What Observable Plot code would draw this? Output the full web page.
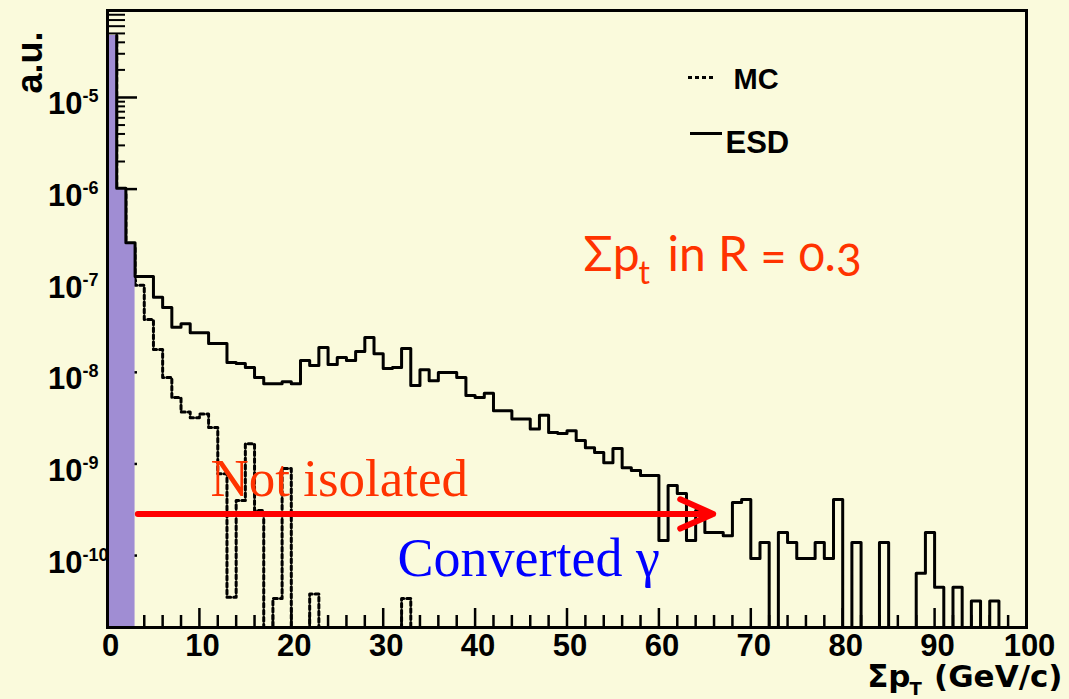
<!DOCTYPE html>
<html><head><meta charset="utf-8">
<script src="https://cdn.jsdelivr.net/npm/d3@7"></script>
<script src="https://cdn.jsdelivr.net/npm/@observablehq/plot@0.6"></script>
<style>
html,body{margin:0;padding:0;background:#fafadc;}
#chart{width:1069px;height:699px;overflow:hidden;}
</style></head><body><div id="chart"></div>
<script>
// Histogram bins: 1 GeV wide, lower edges 0..99 (Σp_T, GeV/c)
const binWidth = 1;
const binLow = d3.range(0, 100, binWidth);

// ESD histogram (a.u.), one value per bin; 0 = empty bin
const esdValues = [
  4.75e-5, 1.02e-6, 2.6e-7, 1.11e-7, 1.11e-7, 6.6e-8, 5.1e-8, 3.1e-8, 3.4e-8, 2.7e-8,
  2.7e-8, 2.06e-8, 2.06e-8, 1.28e-8, 1.25e-8, 1.13e-8, 8.8e-9, 7.5e-9, 7.5e-9, 7.9e-9,
  7.5e-9, 1.35e-8, 1.19e-8, 1.87e-8, 1.22e-8, 1.45e-8, 1.35e-8, 1.69e-8, 2.4e-8, 1.6e-8,
  1.1e-8, 1.13e-8, 1.82e-8, 7.2e-9, 1.07e-8, 8.1e-9, 9.95e-9, 9.95e-9, 8.8e-9, 5.6e-9,
  5.3e-9, 5.9e-9, 3.8e-9, 3.8e-9, 3.1e-9, 3.1e-9, 2.4e-9, 3.4e-9, 2.2e-9, 2.15e-9,
  2.3e-9, 1.8e-9, 1.5e-9, 1.33e-9, 1.03e-9, 1.47e-9, 9.1e-10, 8.5e-10, 7.5e-10, 7.5e-10,
  1.46e-10, 5.8e-10, 4.75e-10, 1.46e-10, 3.1e-10, 1.78e-10, 1.78e-10, 1.65e-10, 3.8e-10, 4.1e-10,
  9.3e-11, 1.39e-10, 0, 1.78e-10, 1.39e-10, 9.3e-11, 9.3e-11, 1.39e-10, 9.3e-11, 4.1e-10,
  0, 1.39e-10, 0, 0, 1.39e-10, 0, 0, 0, 6.4e-11, 1.78e-10,
  4.5e-11, 0, 4.5e-11, 0, 3.2e-11, 0, 3.2e-11, 0, 0, 0
];

// MC histogram (a.u.)
const mcValues = [
  4.75e-5, 9.0e-7, 2.4e-7, 8.9e-8, 3.77e-8, 1.77e-8, 8.8e-9, 5.3e-9, 3.7e-9, 3.2e-9,
  3.5e-9, 2.5e-9, 7.8e-10, 3.5e-11, 4.0e-10, 1.66e-9, 3.1e-10, 0, 3.4e-11, 8.9e-10,
  0, 0, 3.8e-11, 0, 0, 0, 0, 0, 0, 0,
  0, 0, 3.4e-11, 0, 0, 0, 0, 0, 0, 0,
  0, 0, 0, 0, 0, 0, 0, 0, 0, 0,
  0, 0, 0, 0, 0, 0, 0, 0, 0, 0,
  0, 0, 0, 0, 0, 0, 0, 0, 0, 0,
  0, 0, 0, 0, 0, 0, 0, 0, 0, 0,
  0, 0, 0, 0, 0, 0, 0, 0, 0, 0,
  0, 0, 0, 0, 0, 0, 0, 0, 0, 0
];

// Bins filled in purple (isolated region)
const isolatedBins = [0, 1, 2];

// Axis tick labels
const xTickLabels = [0, 10, 20, 30, 40, 50, 60, 70, 80, 90, 100];
const yTickExponents = [-5, -6, -7, -8, -9, -10];

// Legend entries
const legendLabels = ["MC", "ESD"];

// Annotation arrow (data units): from end of isolated region to right
const arrowSpec = [{x1: 3.3, x2: 65.9, y: 2.85e-10}];

// ---- layout ----
const W = 1069, H = 699;
const mL = 107, mR = 43, mT = 10, mB = 72;
const frameW = W - mL - mR, frameH = H - mT - mB;
const yDomain = [1.64e-11, 8.9e-5];
const yMin = yDomain[0];

function steps(vals, bins) {
  const pts = [];
  for (const i of bins) {
    const v = vals[i] > 0 ? vals[i] : yMin;
    pts.push({x: binLow[i], y: v}, {x: binLow[i] + binWidth, y: v});
  }
  return pts;
}
const allBins = binLow.map((_, i) => i);
const esdSteps = steps(esdValues, allBins).slice(1);
const mcSteps = steps(mcValues, allBins).slice(1);
const purpleSteps = steps(esdValues, isolatedBins);

const yMajor = yTickExponents.map(e => Math.pow(10, e));
const yMinor = [];
for (let k = -11; k <= -5; k++) for (let m = 2; m <= 9; m++) {
  const v = m * Math.pow(10, k);
  if (v > yDomain[0] && v < yDomain[1]) yMinor.push(v);
}
const xMinor = d3.range(2, 100, 2).filter(v => v % 10 !== 0);
const xMajor = d3.range(10, 100, 10);

const sans = "Liberation Sans, Arial, Helvetica, sans-serif";
const serif = "Liberation Serif, Times New Roman, serif";

const chart = Plot.plot({
  width: W, height: H,
  marginLeft: mL, marginRight: mR, marginTop: mT, marginBottom: mB,
  x: {domain: [0, 100], axis: null},
  y: {type: "log", domain: yDomain, axis: null},
  style: {background: "#fafadc", fontFamily: sans, overflow: "visible"},
  marks: [
    // ticks
    Plot.tickY(yMinor, {y: d => d, insetRight: frameW - 18, stroke: "black", strokeWidth: 2}),
    Plot.tickY(yMajor, {y: d => d, insetRight: frameW - 30, stroke: "black", strokeWidth: 2.5}),
    Plot.tickX(xMinor, {x: d => d, insetTop: frameH - 12, stroke: "black", strokeWidth: 2.5}),
    Plot.tickX(xMajor, {x: d => d, insetTop: frameH - 19, stroke: "black", strokeWidth: 2.5}),
    // MC (dotted)
    Plot.line(mcSteps, {x: "x", y: "y", stroke: "black", strokeWidth: 3, strokeDasharray: "4,3"}),
    // isolated region fill
    Plot.areaY(purpleSteps, {x: "x", y1: yMin, y2: "y", fill: "#a08dd3"}),
    // ESD (solid)
    Plot.line(esdSteps, {x: "x", y: "y", stroke: "black", strokeWidth: 3}),
    Plot.frame({stroke: "black", strokeWidth: 3}),
    // x tick labels
    Plot.text(xTickLabels, {x: d => d, y: yMin, text: d => String(d), dx: 3, dy: 28,
      textAnchor: "middle", lineAnchor: "bottom", fontSize: 31, fontWeight: "bold", fill: "black"}),
    // y tick labels 10^exp
    Plot.text(yMajor, {x: 0, y: d => d, text: () => "10", dx: -25, dy: 17,
      textAnchor: "end", lineAnchor: "bottom", fontSize: 31, fontWeight: "bold", fill: "black"}),
    Plot.text(yTickExponents, {x: 0, y: e => Math.pow(10, e), text: e => String(e), dx: -25, dy: 5,
      textAnchor: "start", lineAnchor: "bottom", fontSize: 18, fontWeight: "bold", fill: "black"}),
    // axis titles
    Plot.text(["a.u."], {frameAnchor: "top-left", dx: -66, dy: 52, rotate: -90,
      textAnchor: "middle", lineAnchor: "bottom", fontSize: 36, fontWeight: "bold", fill: "black"}),
    Plot.text(["Σp"], {frameAnchor: "top-left", dx: 803, dy: 676, textAnchor: "end",
      lineAnchor: "bottom", fontSize: 31, fontWeight: "bold", fontFamily: "DejaVu Sans", fill: "black"}),
    Plot.text(["T"], {frameAnchor: "top-left", dx: 802, dy: 684, textAnchor: "start",
      lineAnchor: "bottom", fontSize: 18, fontWeight: "bold", fontFamily: "DejaVu Sans", fill: "black"}),
    Plot.text(["(GeV/c)"], {frameAnchor: "top-left", dx: 955, dy: 676, textAnchor: "end",
      lineAnchor: "bottom", fontSize: 31, fontWeight: "bold", fontFamily: "DejaVu Sans", fill: "black"}),
    // legend
    Plot.ruleY([0], {y: () => yDomain[1], dy: 67, insetLeft: 581, insetRight: frameW - 608,
      stroke: "black", strokeWidth: 3, strokeDasharray: "4,3"}),
    Plot.ruleY([0], {y: () => yDomain[1], dy: 123, insetLeft: 583, insetRight: frameW - 615,
      stroke: "black", strokeWidth: 3}),
    Plot.text([legendLabels[0]], {frameAnchor: "top-left", dx: 626, dy: 78, textAnchor: "start",
      lineAnchor: "bottom", fontSize: 29, fontWeight: "bold", fill: "black"}),
    Plot.text([legendLabels[1]], {frameAnchor: "top-left", dx: 618, dy: 142, textAnchor: "start",
      lineAnchor: "bottom", fontSize: 31, fontWeight: "bold", fill: "black"}),
    // annotations
    Plot.text(["Σp"], {frameAnchor: "top-left", dx: 476, dy: 260, textAnchor: "start",
      lineAnchor: "bottom", fontSize: 48, fontFamily: "Lato, Open Sans, sans-serif", fill: "#ff3300"}),
    Plot.text(["t"], {frameAnchor: "top-left", dx: 531, dy: 273, textAnchor: "start",
      lineAnchor: "bottom", fontSize: 32, fontFamily: "Lato, Open Sans, sans-serif", fill: "#ff3300"}),
    Plot.text(["in R = 0.3"], {frameAnchor: "top-left", dx: 560, dy: 260, textAnchor: "start",
      lineAnchor: "bottom", fontSize: 48, fontFamily: "Lato, Open Sans, sans-serif", fill: "#ff3300"}),
    Plot.text(["Not isolated"], {frameAnchor: "top-left", dx: 103, dy: 485, textAnchor: "start",
      lineAnchor: "bottom", fontSize: 53, fontFamily: serif, fill: "#ff3300"}),
    Plot.text(["Converted γ"], {frameAnchor: "top-left", dx: 290, dy: 565, textAnchor: "start",
      lineAnchor: "bottom", fontSize: 54, fontFamily: serif, fill: "#0000ff"}),
    Plot.arrow(arrowSpec, {x1: "x1", y1: "y", x2: "x2", y2: "y", stroke: "#ff0000", strokeWidth: 6,
      headLength: 9, headAngle: 48, strokeLinecap: "round", strokeLinejoin: "round"})
  ]
});
chart.querySelectorAll("text").forEach(t => {
  if (t.textContent === "in R = 0.3") t.style.fontVariantNumeric = "oldstyle-nums";
});
document.getElementById("chart").appendChild(chart);
</script>
</body></html>
